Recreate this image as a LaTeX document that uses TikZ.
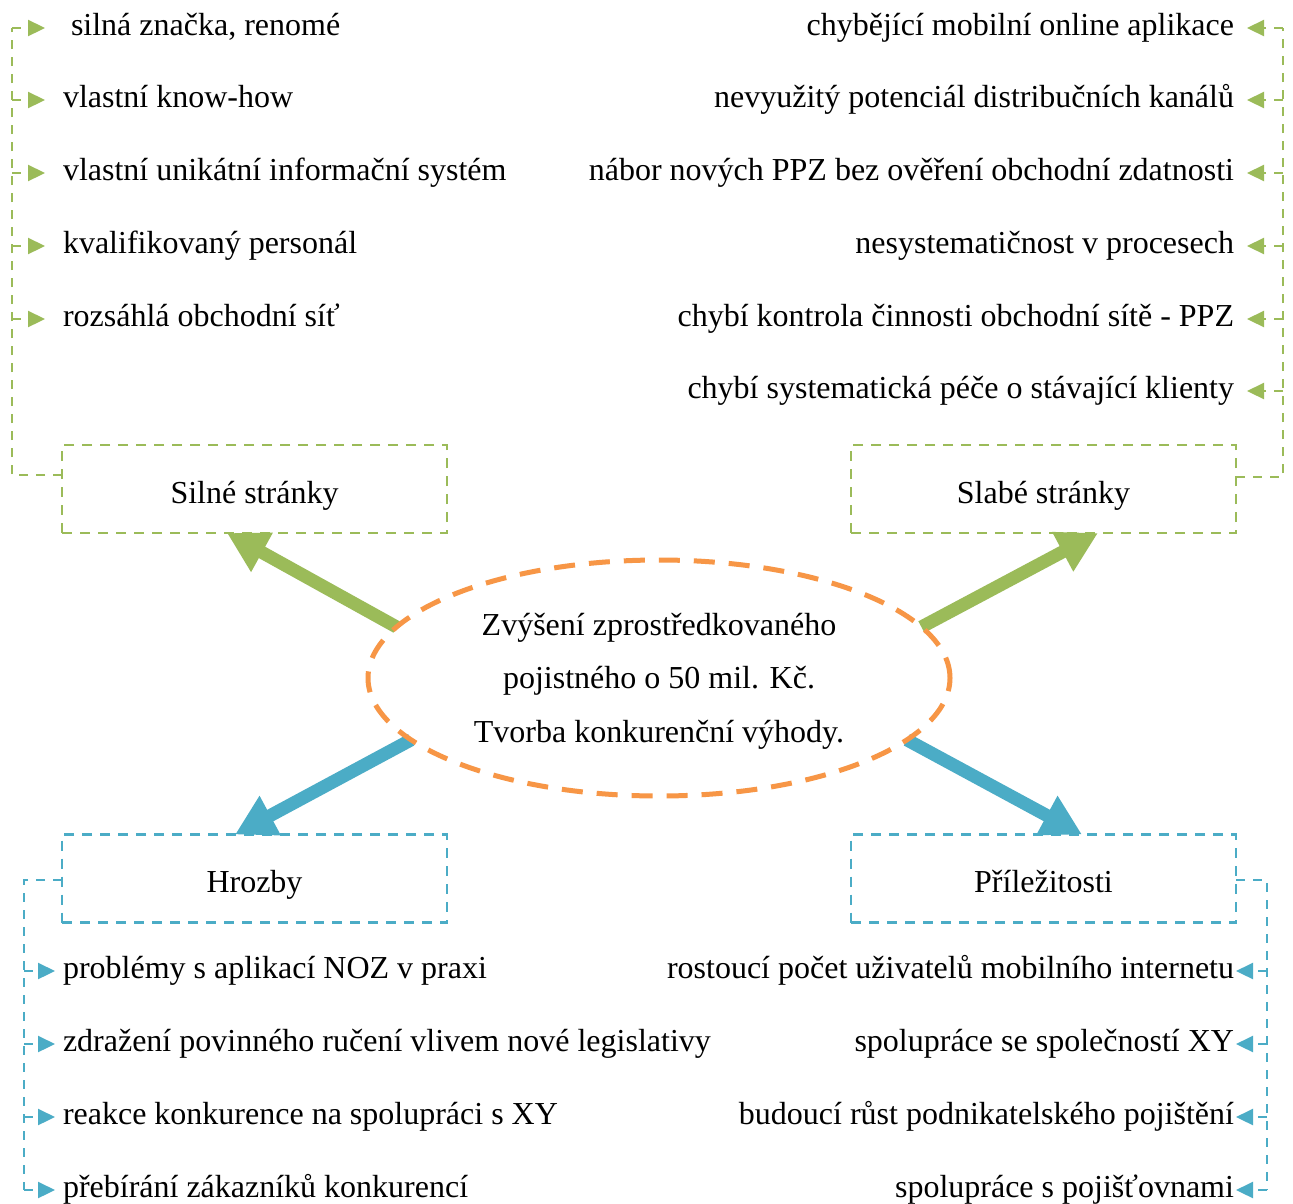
\documentclass[tikz,border=0pt]{standalone}
\usepackage{fontspec}
\setmainfont{Liberation Serif}
\usetikzlibrary{arrows.meta,shapes.geometric,backgrounds,calc}
\definecolor{owgreen}{HTML}{9BBB59}
\definecolor{owblue}{HTML}{4BACC6}
\definecolor{oworange}{HTML}{F79646}
\begin{document}
\begin{tikzpicture}[x=1pt,y=-1pt,
  every node/.style={font=\fontsize{32}{38}\selectfont, inner sep=0pt, outer sep=0pt},
  itemL/.style={anchor=base west, text height=21pt, text depth=7pt},
  itemR/.style={anchor=base east, text height=21pt, text depth=7pt},
  swbox/.style={draw=#1, line width=2.3pt, dash pattern=on 10pt off 8pt,
    minimum width=385pt, minimum height=88pt, text height=36pt, text depth=8pt},
  conn/.style={draw=#1, line width=2.3pt, dash pattern=on 9pt off 8pt},
  conntip/.style={conn=#1, -{Triangle[length=17pt,width=16pt]}},
  bigarrow/.style={draw=#1, line width=13pt, -{Triangle[length=40pt,width=42pt]}},
  goal/.style={draw=oworange, line width=5pt, dash pattern=on 21pt off 14pt,
    ellipse, minimum width=582pt, minimum height=236pt},
  goaltext/.style={anchor=base}
]
\useasboundingbox (0,0) rectangle (1293,1203);

% boxes
\node[swbox=owgreen] (silne) at (254.5,489) {Silné stránky};
\node[swbox=owgreen] (slabe) at (1043.5,489) {Slabé stránky};
\node[swbox=owblue] (hrozby) at (254.5,878.5) {Hrozby};
\node[swbox=owblue] (prilez) at (1043.5,878.5) {Příležitosti};

% central ellipse
\node[goal] (ell) at (659,678) {};
\node[goaltext] (g1) at (659,635) {Zvýšení zprostředkovaného};
\node[goaltext] (g2) at (659,688) {pojistného o 50 mil. Kč.};
\node[goaltext] (g3) at (659,742) {Tvorba konkurenční výhody.};

\begin{scope}[on background layer]
\fill[white] (0,0) rectangle (1293,1203);
\draw[bigarrow=owgreen] (ell.169) -- ([xshift=-27.5pt]silne.south);
\draw[bigarrow=owgreen] (ell.11) -- ([xshift=54.5pt]slabe.south);
\draw[bigarrow=owblue] (ell.194) -- ([xshift=-19.5pt]hrozby.north);
\draw[bigarrow=owblue] (ell.-14) -- ([xshift=38.5pt]prilez.north);
\end{scope}

% strengths
\node[itemL] (s1) at (71,35) {silná značka, renomé};
\node[itemL] (s2) at (63,107) {vlastní know-how};
\node[itemL] (s3) at (63,180) {vlastní unikátní informační systém};
\node[itemL] (s4) at (63,253) {kvalifikovaný personál};
\node[itemL] (s5) at (63,326) {rozsáhlá obchodní síť};
\coordinate (spTL) at (12,0);
\coordinate (tipTL) at (45,0);
\draw[conn=owgreen] ([yshift=14pt]silne.west) -| (spTL |- s1.west);
\foreach \i in {s1,s2,s3,s4,s5}
  \draw[conntip=owgreen] (spTL |- \i.west) -- (tipTL |- \i.west);

% weaknesses
\node[itemR] (w1) at (1234,35) {chybějící mobilní online aplikace};
\node[itemR] (w2) at (1234,107) {nevyužitý potenciál distribučních kanálů};
\node[itemR] (w3) at (1234,180) {nábor nových PPZ bez ověření obchodní zdatnosti};
\node[itemR] (w4) at (1234,253) {nesystematičnost v procesech};
\node[itemR] (w5) at (1234,326) {chybí kontrola činnosti obchodní sítě - PPZ};
\node[itemR] (w6) at (1234,398) {chybí systematická péče o stávající klienty};
\coordinate (spTR) at (1283,0);
\coordinate (tipTR) at (1247,0);
\draw[conn=owgreen] ([yshift=12pt]slabe.east) -| (spTR |- w1.east);
\foreach \i in {w1,w2,w3,w4,w5,w6}
  \draw[conntip=owgreen] (spTR |- \i.east) -- (tipTR |- \i.east);

% threats
\node[itemL] (h1) at (63,978) {problémy s aplikací NOZ v praxi};
\node[itemL] (h2) at (63,1051) {zdražení povinného ručení vlivem nové legislativy};
\node[itemL] (h3) at (63,1124) {reakce konkurence na spolupráci s XY};
\node[itemL] (h4) at (63,1197) {přebírání zákazníků konkurencí};
\coordinate (spBL) at (24,0);
\coordinate (tipBL) at (55,0);
\draw[conn=owblue] ([yshift=-1.5pt]hrozby.west) -| (spBL |- h4.west);
\foreach \i in {h1,h2,h3,h4}
  \draw[conntip=owblue] (spBL |- \i.west) -- (tipBL |- \i.west);

% opportunities
\node[itemR] (p1) at (1234,978) {rostoucí počet uživatelů mobilního internetu};
\node[itemR] (p2) at (1234,1051) {spolupráce se společností XY};
\node[itemR] (p3) at (1234,1124) {budoucí růst podnikatelského pojištění};
\node[itemR] (p4) at (1234,1197) {spolupráce s pojišťovnami};
\coordinate (spBR) at (1267,0);
\coordinate (tipBR) at (1236,0);
\draw[conn=owblue] ([yshift=-1.5pt]prilez.east) -| (spBR |- p4.east);
\foreach \i in {p1,p2,p3,p4}
  \draw[conntip=owblue] (spBR |- \i.east) -- (tipBR |- \i.east);
\end{tikzpicture}
\end{document}
